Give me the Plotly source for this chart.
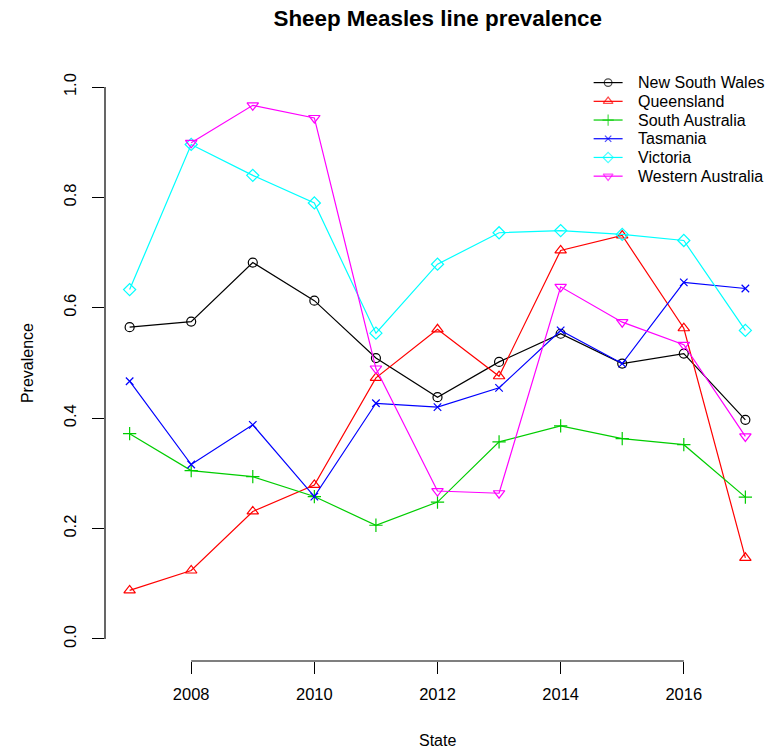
import plotly.graph_objects as go

# Survey years and prevalence by state
years = list(range(2007, 2018))
nsw = [0.565, 0.575, 0.682, 0.613, 0.509, 0.438, 0.502, 0.553, 0.499, 0.517, 0.397]
qld = [0.088, 0.124, 0.231, 0.279, 0.473, 0.561, 0.476, 0.704, 0.731, 0.563, 0.147]
sa = [0.372, 0.305, 0.294, 0.258, 0.206, 0.248, 0.357, 0.386, 0.363, 0.352, 0.257]
tas = [0.467, 0.316, 0.388, 0.258, 0.427, 0.420, 0.455, 0.559, 0.499, 0.646, 0.635]
vic = [0.633, 0.896, 0.840, 0.790, 0.554, 0.679, 0.736, 0.740, 0.733, 0.722, 0.559]
wa = [None, 0.899, 0.967, 0.944, 0.490, 0.268, 0.264, 0.638, 0.574, 0.533, 0.367]

states = ["New South Wales", "Queensland", "South Australia",
          "Tasmania", "Victoria", "Western Australia"]
series = [nsw, qld, sa, tas, vic, wa]
colors = ["#000000", "#FF0000", "#00CD00", "#0000FF", "#00FFFF", "#FF00FF"]
symbols = ["circle-open", "triangle-up-open", "cross-thin-open",
           "x-thin-open", "diamond-open", "triangle-down-open"]
msizes = [9, 10, 9.5, 7.5, 9.3, 10]

x_ticks = [2008, 2010, 2012, 2014, 2016]
y_ticks = [0.0, 0.2, 0.4, 0.6, 0.8, 1.0]

FONT = "Liberation Sans, Arial, Helvetica, sans-serif"
W, H = 771, 755
# plot-area edges in pixels
L, R, T, B = 105.0, 770.5, 65.4, 661.1

fig = go.Figure()
for name, vals, col, sym, ms in zip(states, series, colors, symbols, msizes):
    fig.add_trace(go.Scatter(
        x=years, y=vals, name=name, mode="lines+markers",
        connectgaps=False, showlegend=False,
        line=dict(color=col, width=1.2),
        marker=dict(symbol=sym, size=ms, color=col,
                    line=dict(color=col, width=1.2)),
    ))

# Key in the top-right corner, laid out on a pixel-scaled overlay axis
key_top, key_step = 83.0, 18.7
seg_x0, seg_x1, text_x = 594.0, 623.0, 636.0
annotations = []
for i, (name, col, sym, ms) in enumerate(zip(states, colors, symbols, msizes)):
    yc = key_top + i * key_step
    fig.add_trace(go.Scatter(
        x=[seg_x0, (seg_x0 + seg_x1) / 2, seg_x1], y=[yc, yc, yc],
        xaxis="x2", yaxis="y2", mode="lines+markers", showlegend=False,
        hoverinfo="skip",
        line=dict(color=col, width=1.2),
        marker=dict(symbol=sym, size=[0, ms * 0.85, 0], color=col,
                    line=dict(color=col, width=1.2)),
    ))
    annotations.append(dict(text=name, xref="x2", yref="y2", x=text_x, y=yc,
                            xanchor="left", yanchor="middle", showarrow=False,
                            font=dict(size=16)))

# Axis lines spanning only the tick range
fig.add_shape(type="line", xref="x", yref="paper",
              x0=x_ticks[0], x1=x_ticks[-1], y0=0, y1=0,
              line=dict(color="black", width=1.2))
fig.add_shape(type="line", xref="paper", yref="y",
              x0=0, x1=0, y0=y_ticks[0], y1=y_ticks[-1],
              line=dict(color="black", width=1.2))

annotations += [
    dict(text="State", xref="paper", yref="paper", x=0.5,
         y=-(741 - B) / (B - T), xanchor="center",
         yanchor="middle", showarrow=False, font=dict(size=16)),
    dict(text="Prevalence", xref="paper", yref="paper",
         x=-(L - 27) / (R - L), y=0.5, xanchor="center",
         yanchor="middle", textangle=-90, showarrow=False,
         font=dict(size=16)),
]

fig.update_layout(
    width=W, height=H,
    margin=dict(l=L, r=W - R, t=T, b=H - B, pad=0),
    paper_bgcolor="white", plot_bgcolor="white",
    font=dict(family=FONT, size=16, color="black"),
    showlegend=False,
    title=dict(text="<b>Sheep Measles line prevalence</b>",
               x=(L + R) / 2 / W, xref="container", xanchor="center",
               y=1 - 18 / H, yref="container", yanchor="middle",
               font=dict(size=22.4, family=FONT)),
    xaxis=dict(range=[2006.6, 2017.4], tickvals=x_ticks,
               ticktext=[str(v) for v in x_ticks],
               ticks="outside", ticklen=12, tickwidth=1.2, tickcolor="black",
               showline=False, showgrid=False, zeroline=False,
               ticklabelstandoff=6, tickfont=dict(size=16.5)),
    yaxis=dict(range=[-0.04, 1.04], tickvals=y_ticks,
               ticktext=[f"{v:.1f}" for v in y_ticks],
               ticks="outside", ticklen=12, tickwidth=1.2, tickcolor="black",
               tickangle=-90,
               showline=False, showgrid=False, zeroline=False,
               ticklabelstandoff=9, tickfont=dict(size=16.5)),
    xaxis2=dict(range=[L, R], overlaying="x", anchor="y2", visible=False,
                fixedrange=True),
    yaxis2=dict(range=[B, T], overlaying="y", anchor="x2", visible=False,
                fixedrange=True),
    annotations=annotations,
)

fig.write_html("out.html")
